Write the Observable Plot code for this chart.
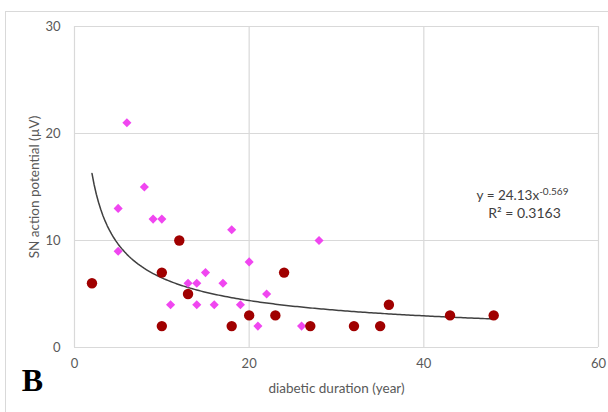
<!DOCTYPE html>
<html>
<head>
<meta charset="utf-8">
<script src="https://cdn.jsdelivr.net/npm/d3@7"></script>
<script src="https://cdn.jsdelivr.net/npm/@observablehq/plot@0.6"></script>
<style>
  html, body { margin: 0; padding: 0; background: #fff; }
  #wrap { position: relative; width: 608px; height: 412px; overflow: hidden; }
  #border { position: absolute; left: 5px; top: 11px; width: 620px; height: 420px;
            border-left: 1px solid #d9d9d9; border-top: 1px solid #d9d9d9; pointer-events: none; }
  svg { display: block; }
</style>
</head>
<body>
<div id="wrap"><div id="border"></div></div>
<script>
// Red circles
const redX = [2, 12, 10, 13, 10, 18, 20, 23, 24, 27, 32, 35, 36, 43, 48];
const redY = [6, 10, 7, 5, 2, 2, 3, 3, 7, 2, 2, 2, 4, 3, 3];
// Pink diamonds
const pinkX = [6, 8, 5, 9, 10, 18, 28, 5, 20, 15, 13, 14, 17, 22, 11, 14, 16, 19, 21, 26];
const pinkY = [21, 15, 13, 12, 12, 11, 10, 9, 8, 7, 6, 6, 6, 5, 4, 4, 4, 4, 2, 2];
// Power trendline as printed on the chart: y = 24.13 x^-0.569
const trendA = 24.13;
const trendB = -0.569;
const trendRange = [2, 48];
const xTicks = [0, 20, 40, 60];
const yTicks = [0, 10, 20, 30];
const eqMain = "y = 24.13x";
const eqExp = "-0.569";
const r2Text = "R² = 0.3163";
const xLabel = "diabetic duration (year)";
const yLabel = "SN action potential (µV)";
const panelLabel = "B";

const red = redX.map((x, i) => ({x, y: redY[i]}));
const pink = pinkX.map((x, i) => ({x, y: pinkY[i]}));
const trend = d3.range(trendRange[0], trendRange[1] + 0.001, 0.25).map(x => ({x, y: trendA * Math.pow(x, trendB)}));

const font = "Lato, 'Open Sans', sans-serif";
const grid = "#d9d9d9";
const txt = "#595959";

const chart = Plot.plot({
  width: 608,
  height: 412,
  marginLeft: 74,
  marginRight: 10,
  marginTop: 26,
  marginBottom: 65,
  style: {fontFamily: font, fontSize: "13px", color: txt, background: "transparent"},
  x: {domain: [0, 60]},
  y: {domain: [0, 30]},
  marks: [
    Plot.gridX(xTicks, {stroke: grid, strokeOpacity: 1, strokeWidth: 1.2}),
    Plot.gridY(yTicks, {stroke: grid, strokeOpacity: 1, strokeWidth: 1.2}),
    Plot.axisX({ticks: xTicks, tickSize: 0, tickPadding: 11, label: null, fill: txt, fontSize: 13}),
    Plot.axisY({ticks: yTicks, tickSize: 0, tickPadding: 14, label: null, fill: txt, fontSize: 13}),
    Plot.line(trend, {x: "x", y: "y", stroke: "#404040", strokeWidth: 1.5}),
    Plot.dot(pink, {x: "x", y: "y", symbol: "diamond2", r: 4.1, fill: "#f046f0", stroke: "none"}),
    Plot.dot(red, {x: "x", y: "y", r: 5.2, fill: "#a00000", stroke: "none"}),
    Plot.text([xLabel], {frameAnchor: "bottom", dy: 41, lineAnchor: "middle", textAnchor: "middle", fill: txt, fontSize: 13.5}),
    Plot.text([yLabel], {frameAnchor: "left", dx: -40, rotate: -90, lineAnchor: "middle", textAnchor: "middle", fill: txt, fontSize: 13.5}),
    Plot.text([eqMain], {frameAnchor: "top-left", dx: 448, dy: 164, fill: "#404040", fontSize: 13.5, textAnchor: "middle"}),
    Plot.text([r2Text], {frameAnchor: "top-left", dx: 450, dy: 182, fill: "#404040", fontSize: 14, textAnchor: "middle"}),
    Plot.text([panelLabel], {frameAnchor: "bottom-left", dx: -42, dy: 43, lineAnchor: "bottom", textAnchor: "middle",
      fill: "#000", fontSize: 32, fontWeight: "bold", fontFamily: "'Liberation Serif', 'DejaVu Serif', serif"})
  ]
});

// add superscript exponent to the equation
d3.select(chart).selectAll("text").filter(function() { return this.textContent === eqMain; })
  .each(function() {
    const t = d3.select(this);
    t.attr("text-anchor", "middle");
    t.append("tspan").attr("dy", "-5").attr("font-size", "10px").text(eqExp);
  });

document.getElementById("wrap").prepend(chart);
</script>
</body>
</html>
